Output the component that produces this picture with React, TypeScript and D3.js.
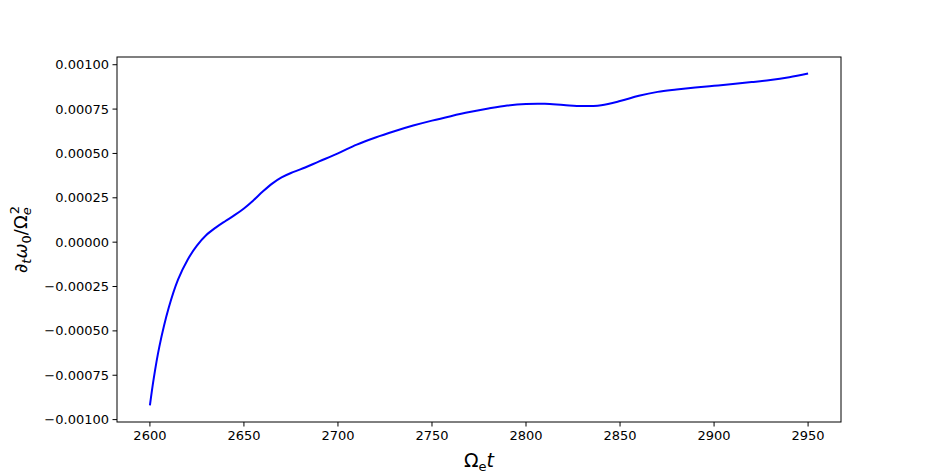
import * as d3 from 'd3'

const times = [2600, 2602, 2605, 2610, 2615, 2620, 2625, 2630, 2635, 2640, 2645, 2650, 2655, 2660, 2665, 2670, 2675, 2680, 2690, 2700, 2710, 2720, 2730, 2740, 2750, 2760, 2770, 2780, 2790, 2800, 2810, 2820, 2830, 2840, 2850, 2860, 2870, 2880, 2890, 2900, 2910, 2920, 2930, 2940, 2950]
const rates = [-0.00092, -0.00077, -0.00059, -0.00037, -0.00021, -0.0001, -0.00002, 0.00004, 0.000082, 0.000118, 0.000152, 0.00019, 0.000235, 0.000285, 0.00033, 0.000365, 0.00039, 0.00041, 0.000455, 0.0005, 0.00055, 0.00059, 0.000625, 0.000657, 0.000685, 0.00071, 0.000733, 0.000753, 0.00077, 0.000779, 0.00078, 0.000773, 0.000767, 0.000772, 0.000795, 0.000825, 0.000847, 0.00086, 0.000871, 0.000881, 0.000891, 0.000902, 0.000914, 0.00093, 0.00095]
const xTicks = [2600, 2650, 2700, 2750, 2800, 2850, 2900, 2950]
const yTicks = [-0.001, -0.00075, -0.0005, -0.00025, 0, 0.00025, 0.0005, 0.00075, 0.001]

const W = 934
const H = 474
const left = 117
const right = 841
const top = 57
const bottom = 422
const font = 'DejaVu Sans, sans-serif'

export default function App() {
    const [x0, x1] = d3.extent(times) as [number, number]
    const [y0, y1] = d3.extent(rates) as [number, number]
    const mx = (x1 - x0) * 0.05
    const my = (y1 - y0) * 0.05
    const x = d3.scaleLinear().domain([x0 - mx, x1 + mx]).range([left, right])
    const y = d3.scaleLinear().domain([y0 - my, y1 + my]).range([bottom, top])
    const line = d3.line<number>()
        .x((d, i) => x(times[i]))
        .y(d => y(d))
        .curve(d3.curveCatmullRom.alpha(0.5))
    const fmt = d3.format('.5f')

    return (
        <svg width={W} height={H} style={{ position: 'absolute', left: 0, top: 0, background: '#fff' }} fontFamily={font}>
            <rect x={0} y={0} width={W} height={H} fill="#fff" />
            <path d={line(rates) ?? ''} fill="none" stroke="#0000ff" strokeWidth={2} strokeLinejoin="round" />
            <rect x={left} y={top} width={right - left} height={bottom - top} fill="none" stroke="#000" strokeWidth={1} />
            {xTicks.map(t => (
                <g key={t} transform={`translate(${x(t)},${bottom})`}>
                    <line y2={4.5} stroke="#000" />
                    <text y={18} textAnchor="middle" fontSize={13}>{t}</text>
                </g>
            ))}
            {yTicks.map(t => (
                <g key={t} transform={`translate(${left},${y(t)})`}>
                    <line x2={-4.5} stroke="#000" />
                    <text x={-8} dy="0.35em" textAnchor="end" fontSize={13}>{fmt(t)}</text>
                </g>
            ))}
            <text x={(left + right) / 2} y={467} textAnchor="middle" fontSize={19}>
                Ω<tspan fontSize={13} dy={4}>e</tspan><tspan dy={-4} fontStyle="italic">t</tspan>
            </text>
            <text transform={`translate(27,${(top + bottom) / 2}) rotate(-90)`} textAnchor="middle" fontSize={18}>
                ∂<tspan fontSize={13} dy={4} fontStyle="italic">t</tspan><tspan dy={-4} fontStyle="italic">ω</tspan><tspan fontSize={13} dy={4}>0</tspan><tspan dy={-4}>/Ω</tspan><tspan fontSize={13} dy={4} fontStyle="italic">e</tspan><tspan fontSize={13} dx={-7} dy={-12}>2</tspan>
            </text>
        </svg>
    )
}
